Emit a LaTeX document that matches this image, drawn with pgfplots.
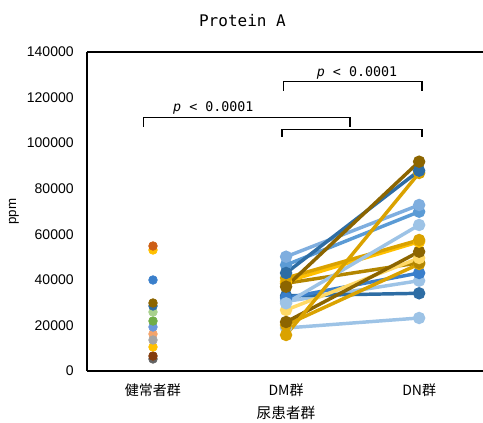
\documentclass[border=0pt]{standalone}
\usepackage{fontspec}
\setmainfont{Liberation Sans}
\newfontfamily\cjk{Noto Sans CJK JP}
\newfontfamily\mono{DejaVu Sans Mono}
\usepackage{pgfplots}
\pgfplotsset{compat=1.18}
\definecolor{cOrangeR}{HTML}{CD5E16}
\definecolor{cYellow}{HTML}{FFC000}
\definecolor{cBlue}{HTML}{3A7FCB}
\definecolor{cDkGold}{HTML}{8C6500}
\definecolor{cDkBlue}{HTML}{2E6DA4}
\definecolor{cLtGreen}{HTML}{A9D18E}
\definecolor{cGreen}{HTML}{70AD47}
\definecolor{cMidBlue}{HTML}{6A97DA}
\definecolor{cLtOrange}{HTML}{F4A46C}
\definecolor{cGray}{HTML}{A5A5A5}
\definecolor{cBrown}{HTML}{843C0C}
\definecolor{cDkGray}{HTML}{636363}
\definecolor{cLtBlue}{HTML}{9DC3E6}
\definecolor{cLtBlue2}{HTML}{7FAEDF}
\definecolor{cBlue2}{HTML}{5B9BD5}
\definecolor{cGold}{HTML}{DAA200}
\definecolor{cLtYellow}{HTML}{FFD966}
\definecolor{cGold2}{HTML}{B38600}
\newcommand{\hpt}[2]{\addplot[only marks, mark=*, mark size=3.3pt, color=#1] coordinates {(0,#2)};}
\newcommand{\pair}[3]{\addplot[color=#1, line width=2.6pt, mark=*, mark size=3.3pt] coordinates {(1,#2) (2,#3)};}
\begin{document}
\begin{tikzpicture}
\useasboundingbox (-65.25pt,-39pt) rectangle (297pt,278.25pt);
\begin{axis}[
  at={(0,0)}, anchor=south west,
  scale only axis, width=297pt, height=239.25pt,
  xmin=-0.496, xmax=2.48, ymin=0, ymax=140000,
  axis lines*=left,
  axis line style={line width=1pt},
  xtick={0,1,2}, xticklabels={健常者群, DM群, DN群},
  ytick={0,20000,40000,60000,80000,100000,120000,140000},
  major tick length=0pt,
  /pgf/number format/assume math mode=true,
  /pgf/number format/.cd, 1000 sep={}, fixed, /pgfplots/.cd,
  scaled y ticks=false,
  yticklabel style={font=\fontsize{10.5}{12}\selectfont, xshift=-6.5pt},
  xticklabel style={font=\cjk\fontsize{10.5}{12}\selectfont, yshift=-6pt},
  xlabel={尿患者群},
  every axis x label/.style={at={(axis cs:1,0)}, yshift=-31.5pt, anchor=center, font=\cjk\fontsize{11}{13}\selectfont},
  ylabel={ppm},
  every axis y label/.style={at={(rel axis cs:0,0.5)}, xshift=-54.75pt, rotate=90, anchor=center, font=\fontsize{10}{12}\selectfont},
  clip=false,
]
% top frame line
\draw[line width=1pt] (rel axis cs:0,1) -- (rel axis cs:1,1);
% healthy group
\hpt{cDkGray}{5270}
\hpt{cBrown}{6580}
\hpt{cYellow}{10530}
\hpt{cLtOrange}{16240}
\hpt{cGray}{13600}
\hpt{cMidBlue}{19310}
\hpt{cGreen}{21940}
\hpt{cLtGreen}{25890}
\hpt{cDkBlue}{28530}
\hpt{cDkGold}{29840}
\hpt{cBlue}{39940}
\hpt{cYellow}{53100}
\hpt{cOrangeR}{54860}
% DM -> DN pairs
\pair{cLtBlue}{18870}{23260}
\pair{cLtBlue}{30500}{39630}
\pair{cDkBlue}{33000}{34100}
\pair{cBlue}{32040}{43010}
\pair{cGold}{20190}{46960}
\pair{cGold2}{38500}{47500}
\pair{cLtYellow}{26770}{49590}
\pair{cDkGold}{21500}{52360}
\pair{cYellow}{39190}{56750}
\pair{cGold}{40820}{57490}
\pair{cLtBlue}{29710}{64080}
\pair{cBlue2}{46520}{69910}
\pair{cLtBlue2}{50160}{72850}
\pair{cGold}{15800}{86900}
\pair{cDkBlue}{43010}{87910}
\pair{cDkGold}{37000}{91860}
% brackets
\draw[line width=1.1pt] (axis cs:-0.07,107100) -- (axis cs:-0.07,111150) -- (axis cs:1.48,111150) -- (axis cs:1.48,107100);
\draw[line width=1.1pt] (axis cs:0.97,102700) -- (axis cs:0.97,106100) -- (axis cs:2.02,106100) -- (axis cs:2.02,102700);
\draw[line width=1.1pt] (axis cs:0.98,123000) -- (axis cs:0.98,126970) -- (axis cs:2.02,126970) -- (axis cs:2.02,123000);
\node[anchor=west, inner sep=0pt, font=\mono\fontsize{10}{12}\selectfont] at (axis cs:0.15,115400) {\itshape p\upshape{} < 0.0001};
\node[anchor=west, inner sep=0pt, font=\mono\fontsize{10}{12}\selectfont] at (axis cs:1.23,131000) {\itshape p\upshape{} < 0.0001};
\end{axis}
\node[font=\mono\fontsize{12}{14}\selectfont, anchor=center] at (116.6pt,262.5pt) {Protein A};
\end{tikzpicture}
\end{document}
